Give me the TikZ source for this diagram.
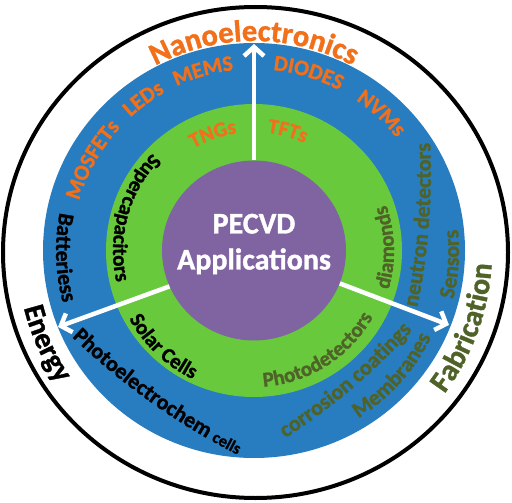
\documentclass[tikz,border=0pt]{standalone}
\usepackage{fontspec}
\setmainfont{Carlito}[BoldFeatures={FakeBold=1.2}]
\usetikzlibrary{decorations.text, arrows.meta, shapes.geometric}
\definecolor{ringblue}{RGB}{40,125,192}
\definecolor{ringgreen}{RGB}{104,201,61}
\definecolor{corepurple}{RGB}{128,100,162}
\definecolor{labelorange}{RGB}{242,112,26}
\definecolor{labelolive}{RGB}{79,98,40}
\newcommand{\fnano}{\fontsize{30.5}{30.5}\selectfont\bfseries}
\newcommand{\fbig}{\fontsize{29.5}{29.5}\selectfont\bfseries}
\newcommand{\fbigger}{\fontsize{30}{30}\selectfont\bfseries}
\newcommand{\fring}{\fontsize{22}{22}\selectfont\bfseries}
\newcommand{\fgreen}{\fontsize{21}{21}\selectfont\bfseries}
\newcommand{\fsmall}{\fontsize{16.5}{16.5}\selectfont\bfseries}
\newcommand{\fcenter}{\fontsize{30}{36}\selectfont\bfseries}
% colour, format, text, radius, start angle, end angle
\newcommand{\ringlabel}[6]{%
  \path[decorate, decoration={text along path, text align=center, text color=#1, text={|#2|#3}}]
    (#5:#4) arc[start angle=#5, end angle=#6, radius=#4];}
% colour, format, text, path
\newcommand{\pathlabel}[4]{%
  \path[decorate, decoration={text along path, text align=center, text color=#1, text={|#2|#3}}] #4;}
\tikzset{
  spoke/.style={draw=white, line width=4.5pt, -{Straight Barb[length=9pt, width=20pt]}},
}
\begin{document}
\begin{tikzpicture}[x=1pt, y=1pt]
\useasboundingbox (0,0) rectangle (512,-503);
\fill[white] (0,0) rectangle (512,-503);
\coordinate (O) at (254,-250.5);
\draw[line width=4pt] (255.5,-252.5) ellipse [x radius=252.5, y radius=245.5];
\fill[ringblue] (O) ellipse [x radius=211, y radius=207.5];
\fill[ringgreen] (O) ellipse [x radius=148, y radius=146.5];
\node[ellipse, fill=corepurple, minimum width=184pt, minimum height=180pt, inner sep=0pt] (pecvd) at (O) {};
\node[text=white, font=\fcenter, align=center] (pecvdtext) at (254,-244) {PECVD\\Applications};

\path (O) ++(90:206.5) coordinate (tipnano);
\path (O) ++(201.3:210.4) coordinate (tipenergy);
\path (O) ++(-20.9:208.7) coordinate (tipfab);
\draw[spoke] (pecvd.90) -- (tipnano);
\draw[spoke] (pecvd.203) -- (tipenergy);
\draw[spoke] (pecvd.-21.6) -- (tipfab);

\begin{scope}[shift={(254,-251)}]
\ringlabel{labelorange}{\fnano}{Nanoelectronics}{210}{160}{20}
\ringlabel{black}{\fbig}{Energy}{237}{164}{244}
\ringlabel{labelolive}{\fbigger}{Fabrication}{238}{-60}{20}
\ringlabel{labelorange}{\fring}{MOSFETs}{182}{180.6}{120.6}
\ringlabel{labelorange}{\fring}{LEDs}{182}{156}{96}
\ringlabel{labelorange}{\fring}{MEMS}{182}{135.8}{75.8}
\ringlabel{labelorange}{\fring}{DIODES}{182}{103}{43}
\ringlabel{labelorange}{\fring}{NVMs}{182}{77.2}{17.2}
\ringlabel{labelorange}{\fgreen}{TNGs}{119}{139.4}{79.4}
\ringlabel{labelorange}{\fgreen}{TFTs}{119}{104.3}{44.3}
\ringlabel{black}{\fring}{Batteriess}{198}{152}{212}
\ringlabel{labelolive}{\fring}{Membranes}{197}{-72}{-12}
\ringlabel{labelolive}{\fring}{Sensors}{205}{-33.8}{26.2}
\ringlabel{black}{\fgreen}{Supercapacitors}{141}{124.5}{204.5}
\ringlabel{black}{\fgreen}{Solar Cells}{142}{186.5}{266.5}
\ringlabel{labelolive}{\fgreen}{Photodetectors}{136}{-97.5}{-17.5}
\ringlabel{labelolive}{\fgreen}{diamonds}{140}{-28.4}{31.6}
\end{scope}

\pathlabel{black}{\fring}{Photoelectrochem |\fsmall|cells}{(52,-317.6) -- (70,-335) .. controls (120.5,-384) and (177.2,-424.3) .. (240,-456) -- (262.3,-467.3)}
\pathlabel{labelolive}{\fring}{corrosion coatings}{(260.3,-454) -- (281.4,-440.6) .. controls (331.4,-408.9) and (376,-371) .. (415.3,-326.7) -- (431.9,-308)}
\pathlabel{labelolive}{\fring}{neutron detectors}{(412.5,-330.8) -- (417.5,-306.3) .. controls (428.3,-252.8) and (432.6,-198.7) .. (430.3,-144) -- (429.3,-119)}
\end{tikzpicture}
\end{document}
